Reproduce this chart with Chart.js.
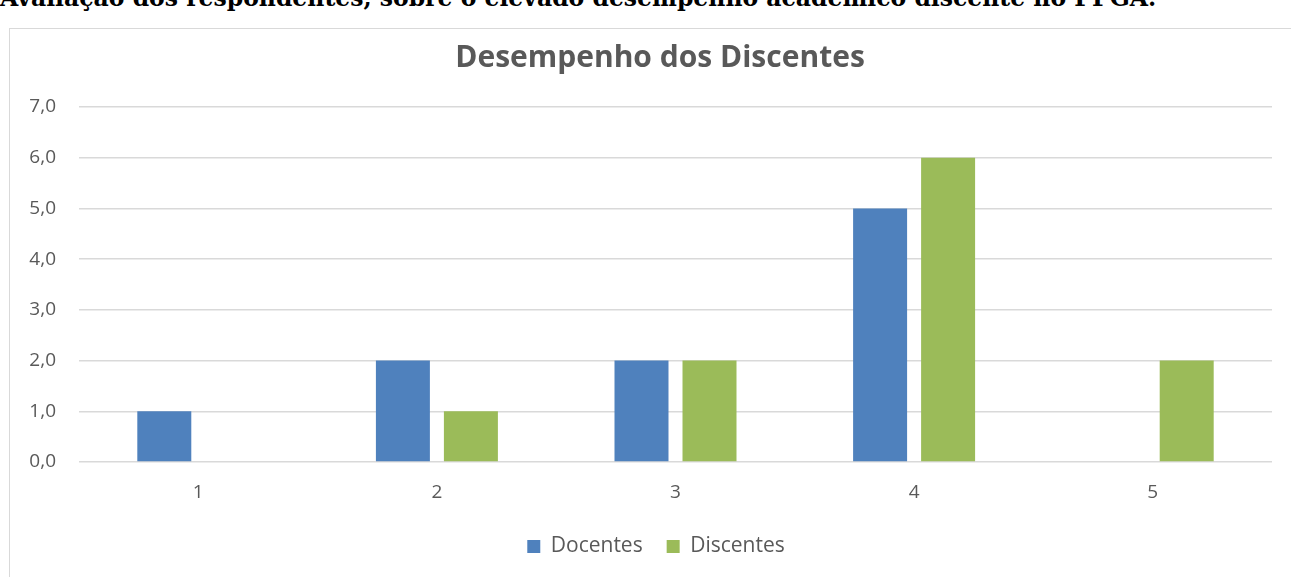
<!DOCTYPE html>
<html>
<head>
<meta charset="utf-8">
<script src="https://cdn.jsdelivr.net/npm/chart.js@4"></script>
<style>
  html, body { margin: 0; padding: 0; background: #fff; overflow: hidden; }
  body { width: 1291px; height: 577px; position: relative; }
  #caption {
    position: absolute; left: 0; top: -14px; white-space: nowrap;
    font-family: "DejaVu Serif", serif; font-weight: bold; font-size: 23.5px;
    line-height: 24px; color: #000;
  }
  #box {
    position: absolute; left: 9px; top: 28px; width: 1300px; height: 600px;
    border: 1px solid #d9d9d9; box-sizing: border-box;
  }
  #wrap { position: absolute; left: 10px; top: 29px; width: 1281px; height: 548px; }
</style>
</head>
<body>
<div id="caption">Avaliação dos respondentes, sobre o elevado desempenho acadêmico discente no PPGA.</div>
<div id="box"></div>
<div id="wrap"><canvas id="chart"></canvas></div>
<script>
const categories = ['1', '2', '3', '4', '5'];
const docentes = [1, 2, 2, 5, 0];
const discentes = [0, 1, 2, 6, 2];

const FONT = "'Open Sans', sans-serif";
const GREY = '#595959';

// the original centres title and legend a bit right of the canvas centre
const shiftBoxes = {
    id: 'shiftBoxes',
    afterLayout: (chart) => {
        if (chart.titleBlock) { chart.titleBlock.left += 19; chart.titleBlock.right += 19; }
        if (chart.legend) { chart.legend.left += 15; chart.legend.right += 15; }
    }
};

new Chart(document.getElementById('chart'), {
    type: 'bar',
    data: {
        labels: categories,
        datasets: [
            { label: 'Docentes', data: docentes, backgroundColor: '#4F81BD', borderWidth: 0 },
            { label: 'Discentes', data: discentes, backgroundColor: '#9BBB59', borderWidth: 0 }
        ]
    },
    plugins: [shiftBoxes],
    options: {
        responsive: true,
        maintainAspectRatio: false,
        animation: false,
        categoryPercentage: 0.57,
        barPercentage: 0.794,
        layout: { padding: { left: 0, right: 19, top: 11, bottom: 10 } },
        plugins: {
            title: {
                display: true,
                text: 'Desempenho dos Discentes',
                color: GREY,
                font: { family: FONT, size: 30, weight: 'bold' },
                padding: { top: 0, bottom: 31 }
            },
            legend: {
                position: 'bottom',
                labels: {
                    color: GREY,
                    boxWidth: 13,
                    boxHeight: 13,
                    padding: 24,
                    font: { family: FONT, size: 21 }
                }
            },
            tooltip: { enabled: false }
        },
        scales: {
            x: {
                grid: { display: false },
                border: { display: false },
                ticks: { color: GREY, font: { family: FONT, size: 19 }, padding: 11 },
                afterFit: (axis) => { axis.height = 50; }
            },
            y: {
                min: 0,
                max: 7,
                grid: { color: '#d9d9d9', lineWidth: 1.5, drawTicks: false },
                border: { display: false },
                ticks: {
                    stepSize: 1,
                    color: GREY,
                    padding: 23,
                    font: { family: FONT, size: 19 },
                    callback: (v) => v.toFixed(1).replace('.', ',')
                },
                afterFit: (axis) => { axis.width = 69; }
            }
        }
    }
});
</script>
</body>
</html>
